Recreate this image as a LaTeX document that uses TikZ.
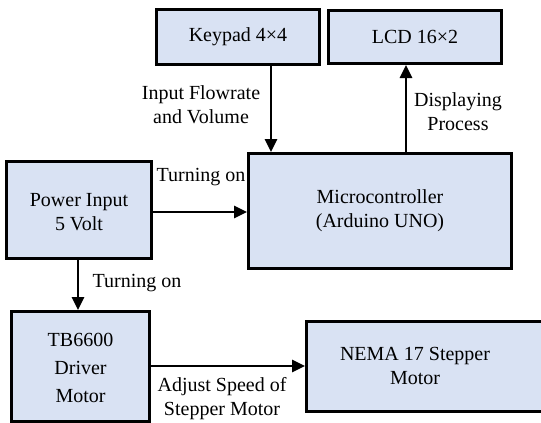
\documentclass[tikz,border=0pt]{standalone}
\usepackage{fontspec}
\setmainfont{Liberation Serif}
\newfontfamily\figfont{Liberation Serif}
\usetikzlibrary{arrows.meta}
\definecolor{boxfill}{HTML}{D9E2F3}
\tikzset{
  every node/.style={font=\figfont\fontsize{20}{24}\selectfont},
  box/.style={draw=black, line width=3pt, fill=boxfill, rectangle, inner sep=0pt, anchor=north west},
  lbl/.style={align=center, inner sep=0pt},
  conn/.style={line width=2.8pt, -{Triangle[length=13pt,width=12pt]}}
}
\begin{document}
\begin{tikzpicture}[x=1pt,y=-1pt]
\useasboundingbox (0,0) rectangle (541,423);
% boxes
\node[box, minimum width=163, minimum height=55] (keypad) at (155,8) {};
\node[lbl] at (keypad.center) {Keypad 4×4};
\node[box, minimum width=173, minimum height=53] (lcd) at (327,9) {};
\node[lbl] at (lcd.center) {LCD 16×2};
\node[box, minimum width=263, minimum height=115] (micro) at (247,152) {};
\node[lbl] at ([yshift=0pt]micro.center) {Microcontroller\\(Arduino UNO)};
\node[box, minimum width=145, minimum height=97] (power) at (5,160) {};
\node[lbl] at ([yshift=-2pt]power.center) {Power Input\\5 Volt};
\node[box, minimum width=138, minimum height=110] (tb) at (10,310) {};
\node[lbl, font=\figfont\fontsize{20}{28}\selectfont] at ([yshift=-1pt]tb.center) {TB6600\\Driver\\Motor};
\node[box, minimum width=260, minimum height=90] (nema) at (305,320) {};
\node[lbl] at (415,366) {NEMA 17 Stepper\\Motor};
% coordinates on box edges
\coordinate (kb) at (271,63);
\coordinate (mt2) at (406,152);
% connectors
\draw[conn] (keypad.south -| kb) -- (micro.north -| kb);
\draw[conn] (micro.north -| mt2) -- (lcd.south -| mt2);
\draw[conn] (power.east |- 0,212) -- (micro.west |- 0,212);
\draw[conn] (power.south -| 78,0) -- (tb.north -| 78,0);
\draw[conn] (tb.east |- 0,366) -- (nema.west |- 0,366);
% labels
\node[lbl] at (201,105) {Input Flowrate\\and Volume};
\node[lbl] at (458,112) {Displaying\\Process};
\node[lbl] at (201,177) {Turning on};
\node[lbl] at (137,283) {Turning on};
\node[lbl] at (222,399) {Adjust Speed of\\Stepper Motor};
\end{tikzpicture}
\end{document}
